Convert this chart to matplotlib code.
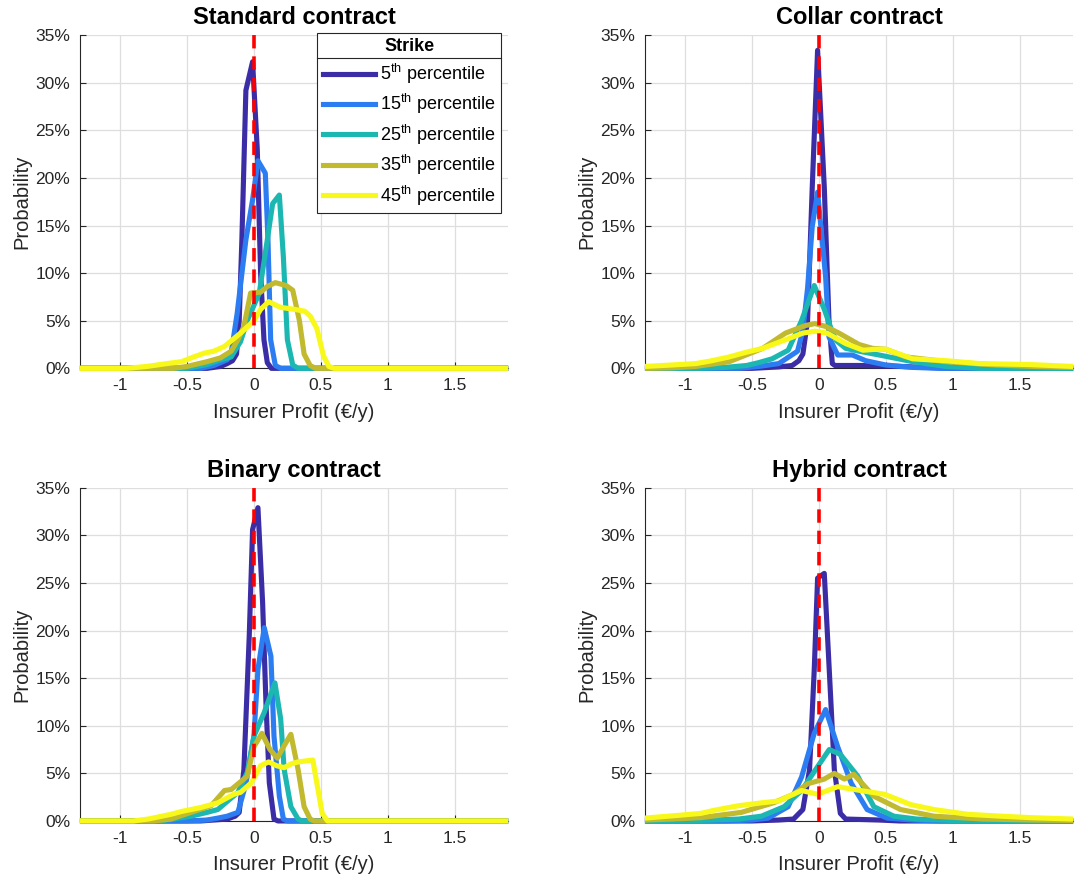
import matplotlib
matplotlib.use("Agg")
import matplotlib.pyplot as plt
from matplotlib.lines import Line2D

plt.rcParams["font.family"] = ["Liberation Sans", "DejaVu Sans"]
plt.rcParams["mathtext.fontset"] = "custom"
plt.rcParams["mathtext.rm"] = "Liberation Sans"

# --- data: (profit in EUR/y, probability in %) ------------------------------
strikes = ["5", "15", "25", "35", "45"]
colors = ["#3A2DA6", "#2D7DF2", "#1DB7B2", "#C1B92E", "#F8F91A"]

std_p05 = [(-1.3, 0), (-0.35, 0), (-0.25, 0.2), (-0.2, 0.5), (-0.16, 0.8), (-0.13, 1.5),
           (-0.11, 5), (-0.09, 13.5), (-0.06, 29.2), (-0.01, 32.2), (0.025, 23),
           (0.05, 10), (0.075, 3), (0.1, 0.6), (0.13, 0), (1.9, 0)]
std_p15 = [(-1.3, 0), (-0.4, 0), (-0.3, 0.3), (-0.2, 0.9), (-0.17, 1.6), (-0.125, 5.8),
           (-0.06, 13.5), (-0.01, 17.7), (0.03, 21.8), (0.085, 20.5), (0.105, 13.5),
           (0.125, 3), (0.16, 0.3), (0.2, 0), (1.9, 0)]
std_p25 = [(-1.3, 0), (-0.5, 0), (-0.35, 0.4), (-0.25, 0.9), (-0.17, 1.2), (-0.1, 2.8),
           (-0.05, 5), (0.04, 7.9), (0.1, 13.5), (0.14, 17.3), (0.19, 18.2), (0.22, 11.7),
           (0.25, 3), (0.29, 0.35), (0.33, 0), (1.9, 0)]
std_p35 = [(-1.3, 0), (-0.6, 0), (-0.5, 0.2), (-0.35, 0.7), (-0.25, 1.1), (-0.17, 1.8),
           (-0.12, 3), (-0.075, 4.4), (-0.025, 7.9), (0.05, 8.0), (0.1, 8.6), (0.16, 9.0),
           (0.24, 8.7), (0.29, 8.2), (0.34, 5), (0.375, 1.5), (0.42, 0.3), (0.46, 0), (1.9, 0)]
std_p45 = [(-1.3, 0), (-0.95, 0), (-0.8, 0.2), (-0.65, 0.5), (-0.54, 0.7), (-0.45, 1.2),
           (-0.37, 1.6), (-0.3, 1.8), (-0.22, 2.3), (-0.1, 3.7), (0, 5.0), (0.05, 6.2),
           (0.11, 7.0), (0.2, 6.4), (0.3, 6.2), (0.38, 6.0), (0.42, 5.5), (0.47, 4.2),
           (0.52, 1.3), (0.56, 0.2), (0.6, 0), (1.9, 0)]

col_p05 = [(-1.3, 0), (-0.5, 0), (-0.3, 0.15), (-0.2, 0.3), (-0.15, 0.8), (-0.12, 1.5),
           (-0.085, 5), (-0.05, 19), (-0.01, 33.4), (0.04, 19), (0.075, 5), (0.1, 0.5),
           (0.12, 0.3), (0.3, 0.3), (0.6, 0.2), (0.8, 0.1), (1.0, 0), (1.9, 0)]
col_p15 = [(-1.3, 0), (-0.6, 0), (-0.45, 0.2), (-0.3, 0.5), (-0.16, 1.8), (-0.12, 4),
           (-0.085, 8.4), (-0.05, 14.9), (-0.01, 18.5), (0.05, 9.6), (0.075, 3.3),
           (0.14, 1.4), (0.25, 1.4), (0.35, 0.8), (0.5, 0.35), (0.7, 0.1), (0.9, 0), (1.9, 0)]
col_p25 = [(-1.3, 0), (-0.9, 0), (-0.7, 0.1), (-0.54, 0.3), (-0.45, 0.6), (-0.35, 1.0),
           (-0.23, 1.9), (-0.13, 5), (-0.035, 8.7), (0.04, 6.2), (0.1, 3.8), (0.13, 2.9),
           (0.2, 2.1), (0.3, 1.8), (0.45, 1.4), (0.7, 0.7), (0.95, 0.2), (1.2, 0), (1.9, 0)]
col_p35 = [(-1.3, 0), (-1.1, 0.05), (-0.92, 0.2), (-0.67, 0.7), (-0.42, 2.1), (-0.25, 3.7),
           (-0.1, 4.5), (-0.03, 4.7), (0.05, 4.4), (0.15, 3.7), (0.3, 2.5), (0.4, 2.1),
           (0.5, 2.0), (0.65, 1.2), (0.95, 0.7), (1.32, 0.35), (1.6, 0.2), (1.9, 0.1)]
col_p45 = [(-1.3, 0.2), (-1.1, 0.35), (-0.92, 0.5), (-0.8, 0.8), (-0.67, 1.2), (-0.54, 1.7),
           (-0.42, 2.1), (-0.25, 3.0), (-0.12, 3.7), (-0.03, 3.9), (0.06, 3.7), (0.2, 2.6),
           (0.33, 1.9), (0.42, 2.0), (0.5, 2.0), (0.7, 1.0), (0.95, 0.8), (1.2, 0.5),
           (1.57, 0.4), (1.9, 0.2)]

bin_p05 = [(-1.3, 0), (-0.4, 0), (-0.2, 0.2), (-0.14, 0.5), (-0.11, 0.9), (-0.075, 5.4),
           (-0.035, 19.4), (-0.01, 30.6), (0.03, 32.9), (0.065, 22.9), (0.09, 12.4),
           (0.115, 4), (0.15, 0.2), (0.18, 0), (1.9, 0)]
bin_p15 = [(-1.3, 0), (-0.5, 0), (-0.35, 0.1), (-0.27, 0.3), (-0.2, 0.5), (-0.12, 0.9),
           (-0.06, 3.9), (0, 8.9), (0.03, 15.9), (0.077, 20.3), (0.127, 17.3), (0.15, 8.9),
           (0.19, 2.6), (0.22, 0.2), (0.25, 0), (1.9, 0)]
bin_p25 = [(-1.3, 0), (-0.7, 0), (-0.6, 0.2), (-0.47, 0.5), (-0.35, 0.9), (-0.27, 1.2),
           (-0.12, 3), (-0.05, 5.1), (0, 8.9), (0.077, 11.4), (0.157, 14.5), (0.2, 10.7),
           (0.226, 5.4), (0.276, 1.5), (0.33, 0.2), (0.36, 0), (1.9, 0)]
bin_p35 = [(-1.3, 0), (-0.75, 0), (-0.62, 0.2), (-0.47, 0.9), (-0.32, 1.6), (-0.22, 3.2),
           (-0.17, 3.3), (-0.05, 4.7), (0, 7.8), (0.06, 9.2), (0.12, 7.5), (0.175, 6.6),
           (0.23, 8.0), (0.276, 9.1), (0.33, 5.4), (0.375, 1.5), (0.42, 0.2), (0.45, 0), (1.9, 0)]
bin_p45 = [(-1.3, 0), (-0.9, 0), (-0.79, 0.2), (-0.62, 0.7), (-0.54, 1.0), (-0.4, 1.4),
           (-0.27, 1.9), (-0.15, 2.8), (-0.1, 3.0), (-0.02, 4.0), (0.05, 5.8), (0.11, 6.2),
           (0.17, 5.8), (0.226, 5.6), (0.28, 6.0), (0.33, 6.2), (0.44, 6.4), (0.475, 3.6),
           (0.51, 0.8), (0.55, 0), (1.9, 0)]

hyb_p05 = [(-1.3, 0), (-0.5, 0), (-0.3, 0.1), (-0.19, 0.2), (-0.12, 1.2), (-0.07, 5.4),
           (-0.035, 15.9), (-0.01, 25.5), (0.04, 26), (0.077, 15.9), (0.115, 5.4),
           (0.16, 0.8), (0.2, 0.2), (0.45, 0.1), (0.6, 0), (1.9, 0)]
hyb_p15 = [(-1.3, 0), (-0.7, 0), (-0.5, 0.1), (-0.38, 0.3), (-0.23, 1.5), (-0.13, 4.6),
           (-0.035, 9.2), (0.05, 11.7), (0.14, 7.8), (0.24, 4), (0.36, 1.2), (0.51, 0.3),
           (0.7, 0.1), (0.9, 0), (1.9, 0)]
hyb_p25 = [(-1.3, 0), (-0.9, 0.05), (-0.6, 0.2), (-0.43, 0.5), (-0.26, 1.5), (-0.13, 3.2),
           (-0.01, 5.7), (0.077, 7.5), (0.16, 7.0), (0.29, 4.7), (0.41, 1.5), (0.56, 0.5),
           (0.73, 0.2), (1.0, 0.05), (1.9, 0)]
hyb_p35 = [(-1.3, 0.1), (-1.1, 0.2), (-0.88, 0.35), (-0.58, 0.9), (-0.34, 1.9), (-0.19, 2.8),
           (-0.085, 3.9), (0.04, 4.4), (0.115, 5.0), (0.19, 4.4), (0.26, 4.9), (0.41, 2.6),
           (0.61, 1.2), (0.86, 0.5), (1.23, 0.2), (1.6, 0.1), (1.9, 0.05)]
hyb_p45 = [(-1.3, 0.3), (-1.04, 0.6), (-0.88, 0.8), (-0.79, 1.1), (-0.6, 1.6), (-0.43, 1.9),
           (-0.3, 2.1), (-0.13, 3.2), (-0.01, 2.8), (0.14, 3.6), (0.31, 3.2), (0.49, 2.8),
           (0.69, 1.7), (0.86, 1.2), (1.11, 0.7), (1.36, 0.5), (1.58, 0.35), (1.9, 0.2)]

titles = ["Standard contract", "Collar contract", "Binary contract", "Hybrid contract"]
panels = [
    [std_p05, std_p15, std_p25, std_p35, std_p45],
    [col_p05, col_p15, col_p25, col_p35, col_p45],
    [bin_p05, bin_p15, bin_p25, bin_p35, bin_p45],
    [hyb_p05, hyb_p15, hyb_p25, hyb_p35, hyb_p45],
]
xticks = [-1, -0.5, 0, 0.5, 1, 1.5]
xticklabels = ["-1", "-0.5", "0", "0.5", "1", "1.5"]
yticks = [0, 5, 10, 15, 20, 25, 30, 35]

AX_COL = "#262626"

fig = plt.figure(figsize=(10.76, 8.77), dpi=100)
W, H = 0.398, 0.380
boxes = [(0.0743, 0.580), (0.5994, 0.580), (0.0743, 0.0639), (0.5994, 0.0639)]

axes = []
for (l, b), title, curves in zip(boxes, titles, panels):
    ax = fig.add_axes([l, b, W, H])
    for pts, c in zip(curves, colors):
        xs = [p[0] for p in pts]
        ys = [p[1] for p in pts]
        ax.plot(xs, ys, color=c, lw=3.7, solid_joinstyle="round",
                solid_capstyle="butt", clip_on=False, zorder=3)
    ax.plot([0, 0], [0, 35], color="#FF0000", lw=2.6, ls=(0, (3.7, 2.2)),
            zorder=5, clip_on=False)
    ax.set_xlim(-1.3, 1.9)
    ax.set_ylim(0, 35)
    ax.set_xticks(xticks)
    ax.set_xticklabels(xticklabels)
    ax.set_yticks(yticks)
    ax.set_yticklabels([f"{v}%" for v in yticks])
    ax.grid(True, color="#DEDEDE", lw=0.9)
    ax.set_axisbelow(True)
    for s in ("top", "right"):
        ax.spines[s].set_visible(False)
    for s in ("left", "bottom"):
        ax.spines[s].set_color(AX_COL)
        ax.spines[s].set_linewidth(0.8)
    ax.tick_params(direction="in", length=4, width=0.8, colors=AX_COL,
                   labelsize=12.5, pad=7)
    ax.set_xlabel("Insurer Profit (€/y)", fontsize=14.5, color=AX_COL, labelpad=7)
    ax.set_ylabel("Probability", fontsize=14.5, color=AX_COL, labelpad=3)
    ax.set_title(title, fontsize=17, fontweight="bold", pad=8)
    axes.append(ax)

# legend with a rule under its title
handles = [Line2D([], [], color=c, lw=3.7) for c in colors]
labels = [s + r"$^{\mathrm{th}}$ percentile" for s in strikes]
leg = axes[0].legend(handles, labels, title="Strike", loc="upper right",
                     bbox_to_anchor=(0.984, 1.006), borderaxespad=0,
                     fontsize=13, title_fontproperties={"weight": "bold", "size": 13},
                     frameon=True, fancybox=False, framealpha=1, edgecolor=AX_COL,
                     handlelength=2.9, handletextpad=0.3, labelspacing=0.35,
                     borderpad=0.3)
leg.get_frame().set_linewidth(0.8)
leg.set_zorder(10)

fig.canvas.draw()
lb = leg.get_window_extent()
tb = leg.get_title().get_window_extent()
y_rule = (tb.y0 - 3) / fig.bbox.height
fig.add_artist(Line2D([lb.x0 / fig.bbox.width, lb.x1 / fig.bbox.width],
                      [y_rule, y_rule], color=AX_COL, lw=0.8, zorder=11))

fig.savefig("out.png", dpi=100)
